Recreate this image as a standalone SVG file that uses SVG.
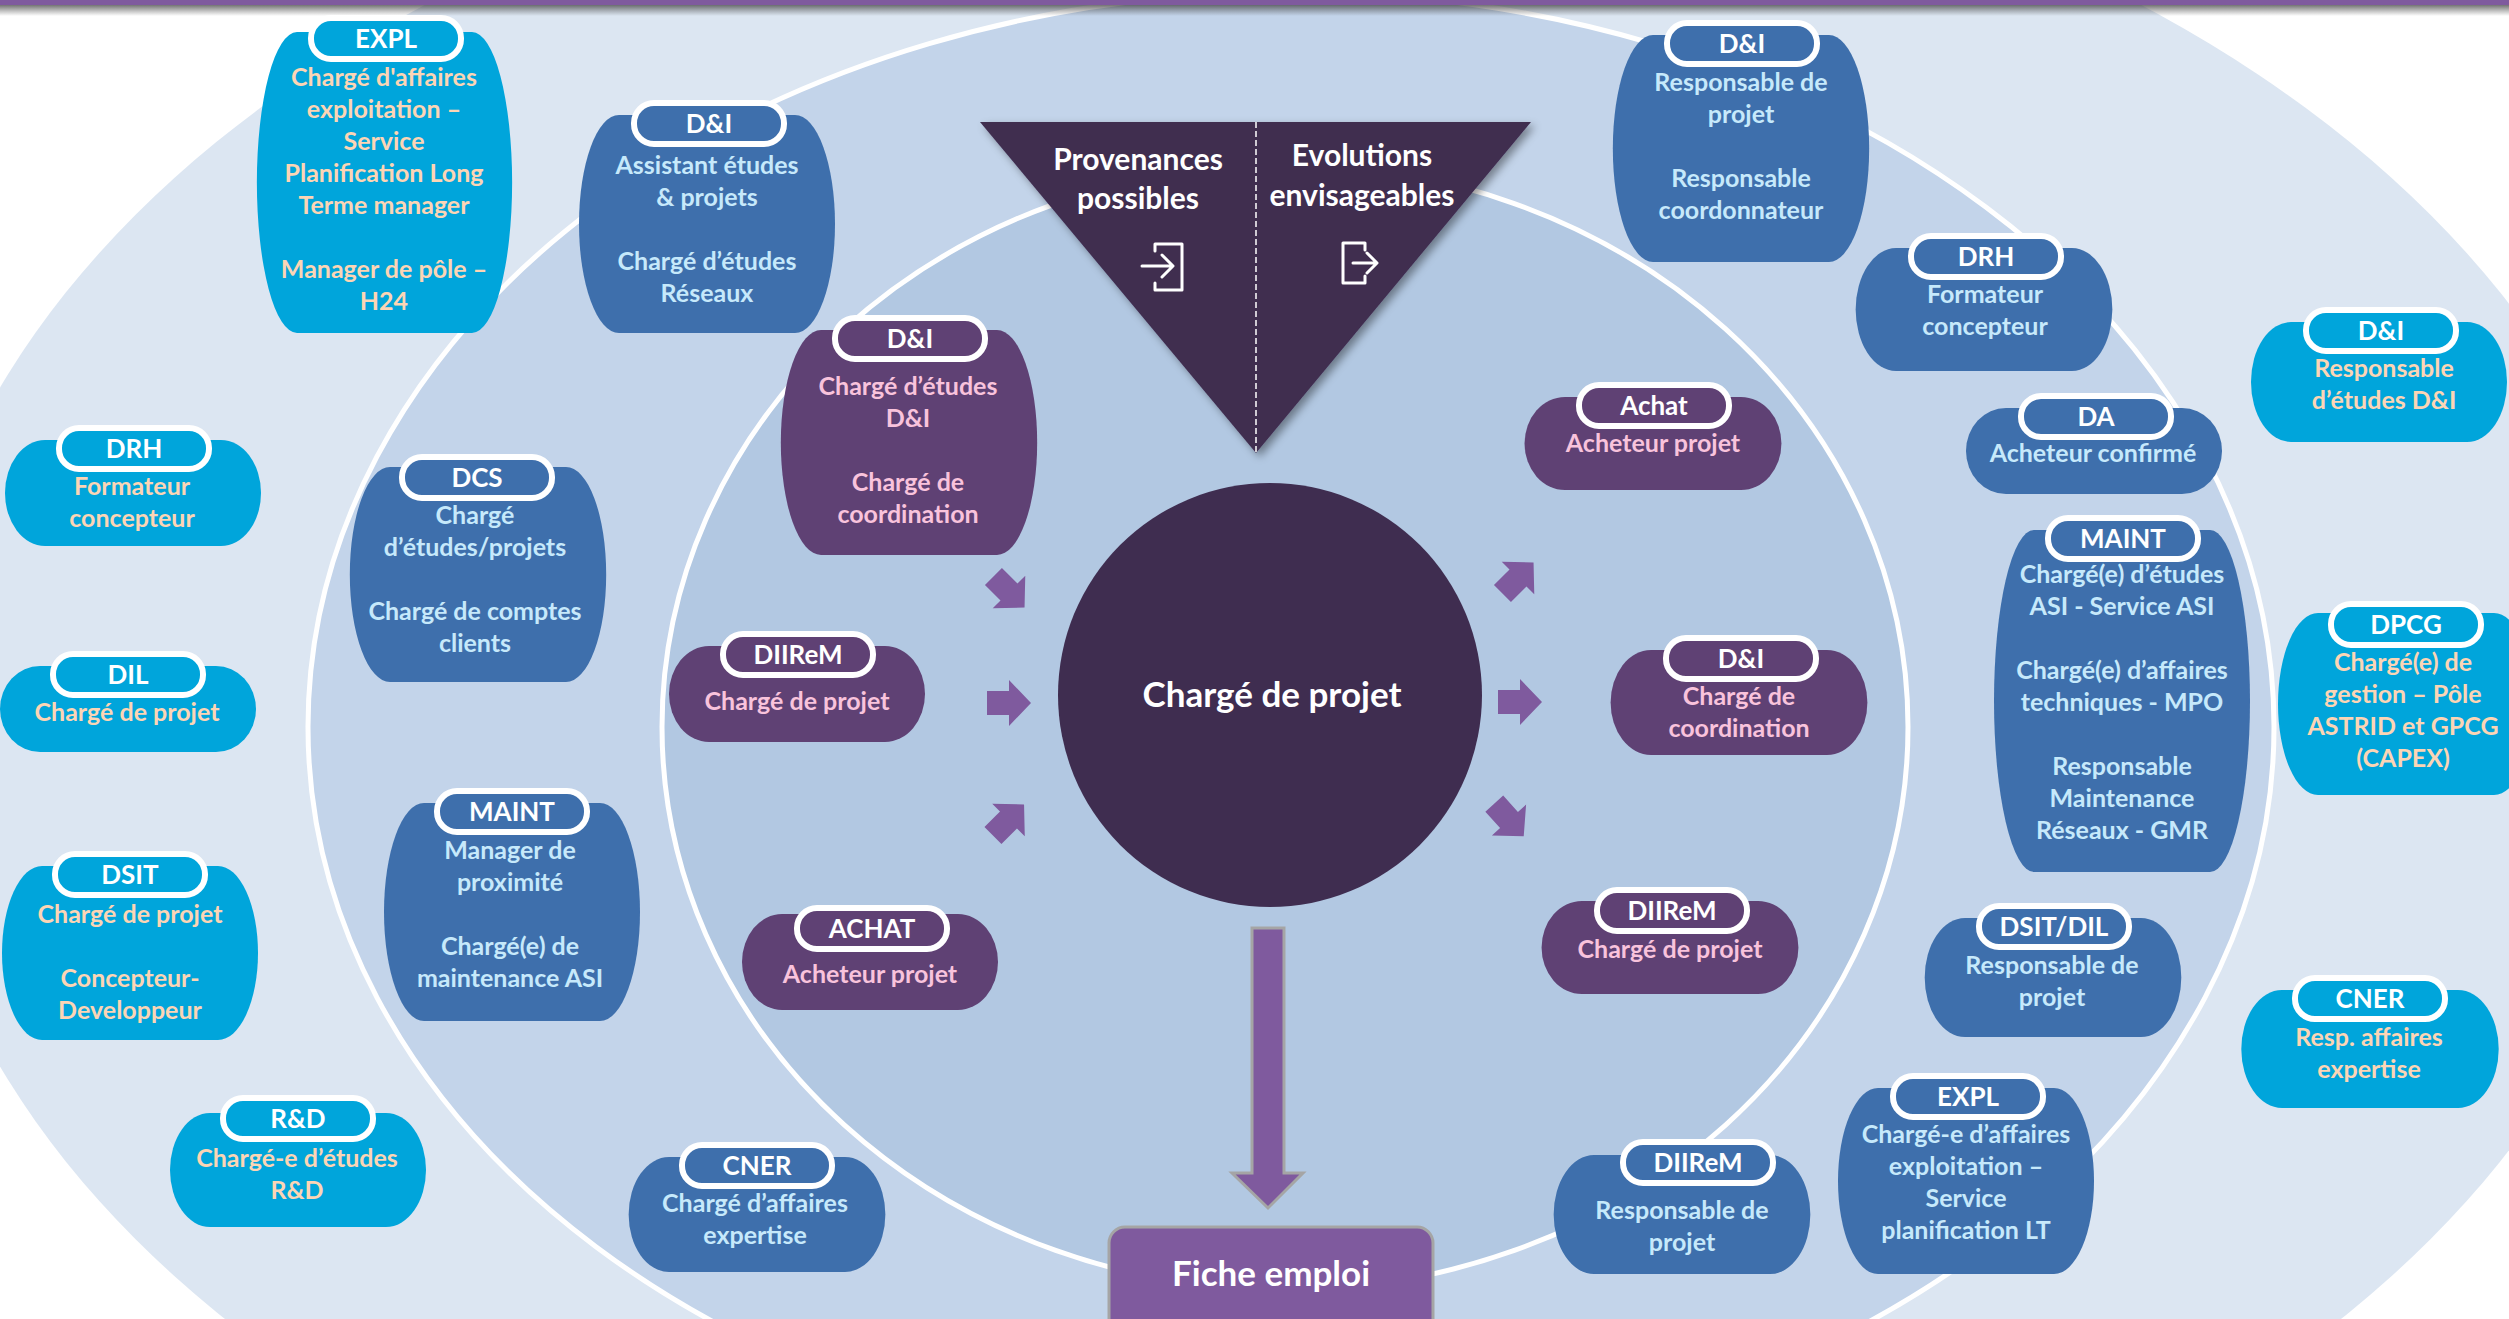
<svg xmlns="http://www.w3.org/2000/svg" xmlns:xlink="http://www.w3.org/1999/xlink" width="2509" height="1319" viewBox="0 0 2509 1319">
<style>
text{font-family:"Lato","Open Sans","Liberation Sans",sans-serif;font-weight:700;text-anchor:middle}
.l{font-size:25px;transform:translateY(1px)}
.p{font-size:26px;fill:#fff;transform:translateY(1px)}
.cy path,.cy .pill{fill:#00a5db}
.bl path,.bl .pill{fill:#3e6fac}
.pu path,.pu .pill{fill:#5f4174}
.pill{stroke:#fff;stroke-width:6;transform:translateX(-1px)}
.cy .l{fill:#fcd5b5}
.bl .l{fill:#c6e9fb}
.pu .l{fill:#f9c3dc}
.w{fill:#fff}
.dark{fill:#3f2d50}
.ic{fill:none;stroke:#fff;stroke-width:3;stroke-linejoin:round;stroke-linecap:round}
.arr{fill:#7f5a9e}
</style>
<defs>
<linearGradient id="topshade" x1="0" y1="0" x2="0" y2="1"><stop offset="0" stop-color="#444" stop-opacity=".75"/><stop offset="1" stop-color="#555" stop-opacity="0"/></linearGradient>
<filter id="sh" x="-10%" y="-10%" width="125%" height="125%"><feDropShadow dx="4" dy="4" stdDeviation="4" flood-color="#000" flood-opacity=".4"/></filter>
<polygon id="ar" points="-22,-12 0,-12 0,-23 22,0 0,23 0,12 -22,12"/>
</defs>
<rect width="2509" height="1319" fill="#fff"/>
<ellipse cx="1283" cy="727" rx="1380" ry="922" fill="#dce6f2"/>
<ellipse cx="1291" cy="727" rx="983" ry="735" fill="#c3d4ea" stroke="#fff" stroke-width="5"/>
<ellipse cx="1285" cy="727" rx="623" ry="563" fill="#b2c8e2" stroke="#fff" stroke-width="5"/>
<rect y="5" width="2509" height="11" fill="url(#topshade)"/>
<rect width="2509" height="5" fill="#7f5a9e"/>

<g id="triangle">
<polygon class="dark" points="980,122 1531,122 1256,453" filter="url(#sh)"/>
<line x1="1256" y1="122" x2="1256" y2="453" stroke="#fff" stroke-width="1.5" stroke-dasharray="6 3"/>
<text class="w" x="1138" y="170" font-size="30">Provenances</text>
<text class="w" x="1138" y="209" font-size="30">possibles</text>
<text class="w" x="1362" y="166" font-size="30">Evolutions</text>
<text class="w" x="1362" y="206" font-size="30">envisageables</text>
<path class="ic" d="M1155 244H1182V290H1155V283M1155 244V251M1142 266H1172M1162 255L1173 266L1162 277"/>
<path class="ic" d="M1365 250V243H1343V283H1365V276M1353 263H1376M1367 253L1377 263L1367 273"/>
</g>

<g id="center"><circle class="dark" cx="1270" cy="695" r="212"/><text class="w" x="1272" y="707" font-size="35">Chargé de projet</text></g>

<g id="fiche"><rect x="1109" y="1227" width="324" height="110" rx="16" fill="#7f5a9e" stroke="#a5a5a5" stroke-width="3"/><text class="w" x="1271" y="1286" font-size="35">Fiche emploi</text></g>

<g id="connectors">
<polygon points="1252,928 1284,928 1284,1173 1303,1173 1268,1208 1232,1173 1252,1173" fill="#7f5a9e" stroke="#a5a5a5" stroke-width="3"/>
<use class="arr" xlink:href="#ar" href="#ar" transform="translate(1009 592) rotate(45)"/>
<use class="arr" xlink:href="#ar" href="#ar" transform="translate(1009 703)"/>
<use class="arr" xlink:href="#ar" href="#ar" transform="translate(1008.5 820) rotate(-45)"/>
<use class="arr" xlink:href="#ar" href="#ar" transform="translate(1518 578) rotate(-45)"/>
<use class="arr" xlink:href="#ar" href="#ar" transform="translate(1520 702)"/>
<use class="arr" xlink:href="#ar" href="#ar" transform="translate(1509 820) rotate(48)"/>
</g>

<g id="n-expl-o" class="cy"><path d="M297 32H472A40 150 0 0 1 472 333H297A40 150 0 0 1 297 32Z"/><rect class="pill" x="312" y="18" width="150" height="41" rx="20"/><text class="p" x="386" y="47">EXPL</text>
<text class="l" x="384" y="85">Chargé d'affaires</text><text class="l" x="384" y="117">exploitation –</text><text class="l" x="384" y="149">Service</text><text class="l" x="384" y="181">Planification Long</text><text class="l" x="384" y="213">Terme manager</text><text class="l" x="384" y="277">Manager de pôle –</text><text class="l" x="384" y="309">H24</text></g>

<g id="n-drh-o" class="cy"><path d="M45 440H221A40 53 0 0 1 221 546H45A40 53 0 0 1 45 440Z"/><rect class="pill" x="60" y="428" width="150" height="41" rx="20"/><text class="p" x="134" y="457">DRH</text>
<text class="l" x="132" y="494">Formateur</text><text class="l" x="132" y="526">concepteur</text></g>

<g id="n-dil-o" class="cy"><path d="M40 666H216A40 43 0 0 1 216 752H40A40 43 0 0 1 40 666Z"/><rect class="pill" x="54" y="654" width="150" height="41" rx="20"/><text class="p" x="128" y="683">DIL</text>
<text class="l" x="127" y="720">Chargé de projet</text></g>

<g id="n-dsit-o" class="cy"><path d="M42 866H218A40 87 0 0 1 218 1040H42A40 87 0 0 1 42 866Z"/><rect class="pill" x="56" y="854" width="150" height="41" rx="20"/><text class="p" x="130" y="883">DSIT</text>
<text class="l" x="130" y="922">Chargé de projet</text><text class="l" x="130" y="986">Concepteur-</text><text class="l" x="130" y="1018">Developpeur</text></g>

<g id="n-rd-o" class="cy"><path d="M210 1113H386A40 57 0 0 1 386 1227H210A40 57 0 0 1 210 1113Z"/><rect class="pill" x="224" y="1098" width="150" height="41" rx="20"/><text class="p" x="298" y="1127">R&amp;D</text>
<text class="l" x="297" y="1166">Chargé-e d’études</text><text class="l" x="297" y="1198">R&amp;D</text></g>

<g id="n-di-o" class="cy"><path d="M2291 322H2467A40 60 0 0 1 2467 442H2291A40 60 0 0 1 2291 322Z"/><rect class="pill" x="2307" y="310" width="150" height="41" rx="20"/><text class="p" x="2381" y="339">D&amp;I</text>
<text class="l" x="2384" y="376">Responsable</text><text class="l" x="2384" y="408">d’études D&amp;I</text></g>

<g id="n-dpcg-o" class="cy"><path d="M2318 613H2494A40 91 0 0 1 2494 795H2318A40 91 0 0 1 2318 613Z"/><rect class="pill" x="2332" y="604" width="150" height="41" rx="20"/><text class="p" x="2406" y="633">DPCG</text>
<text class="l" x="2403" y="670">Chargé(e) de</text><text class="l" x="2403" y="702">gestion – Pôle</text><text class="l" x="2403" y="734">ASTRID et GPCG</text><text class="l" x="2403" y="766">(CAPEX)</text></g>

<g id="n-cner-o" class="cy"><path d="M2282 990H2458A40 58 0 0 1 2458 1108H2282A40 58 0 0 1 2282 990Z"/><rect class="pill" x="2296" y="978" width="150" height="41" rx="20"/><text class="p" x="2370" y="1007">CNER</text>
<text class="l" x="2369" y="1045">Resp. affaires</text><text class="l" x="2369" y="1077">expertise</text></g>

<g id="n-di-m1" class="bl"><path d="M619 115H795A40 109 0 0 1 795 333H619A40 109 0 0 1 619 115Z"/><rect class="pill" x="635" y="103" width="150" height="41" rx="20"/><text class="p" x="709" y="132">D&amp;I</text>
<text class="l" x="707" y="173">Assistant études</text><text class="l" x="707" y="205">&amp; projets</text><text class="l" x="707" y="269">Chargé d’études</text><text class="l" x="707" y="301">Réseaux</text></g>

<g id="n-dcs-m" class="bl"><path d="M390 467H566A40 107 0 0 1 566 682H390A40 107 0 0 1 390 467Z"/><rect class="pill" x="403" y="457" width="150" height="41" rx="20"/><text class="p" x="477" y="486">DCS</text>
<text class="l" x="475" y="523">Chargé</text><text class="l" x="475" y="555">d’études/projets</text><text class="l" x="475" y="619">Chargé de comptes</text><text class="l" x="475" y="651">clients</text></g>

<g id="n-maint-m1" class="bl"><path d="M424 803H600A40 109 0 0 1 600 1021H424A40 109 0 0 1 424 803Z"/><rect class="pill" x="438" y="791" width="150" height="41" rx="20"/><text class="p" x="512" y="820">MAINT</text>
<text class="l" x="510" y="858">Manager de</text><text class="l" x="510" y="890">proximité</text><text class="l" x="510" y="954">Chargé(e) de</text><text class="l" x="510" y="986">maintenance ASI</text></g>

<g id="n-cner-m" class="bl"><path d="M669 1157H845A40 57 0 0 1 845 1272H669A40 57 0 0 1 669 1157Z"/><rect class="pill" x="683" y="1145" width="150" height="41" rx="20"/><text class="p" x="757" y="1174">CNER</text>
<text class="l" x="755" y="1211">Chargé d’affaires</text><text class="l" x="755" y="1243">expertise</text></g>

<g id="n-di-m2" class="bl"><path d="M1653 35H1829A40 113 0 0 1 1829 262H1653A40 113 0 0 1 1653 35Z"/><rect class="pill" x="1668" y="23" width="150" height="41" rx="20"/><text class="p" x="1742" y="52">D&amp;I</text>
<text class="l" x="1741" y="90">Responsable de</text><text class="l" x="1741" y="122">projet</text><text class="l" x="1741" y="186">Responsable</text><text class="l" x="1741" y="218">coordonnateur</text></g>

<g id="n-drh-m" class="bl"><path d="M1896 248H2072A40 61 0 0 1 2072 371H1896A40 61 0 0 1 1896 248Z"/><rect class="pill" x="1912" y="236" width="150" height="41" rx="20"/><text class="p" x="1986" y="265">DRH</text>
<text class="l" x="1985" y="302">Formateur</text><text class="l" x="1985" y="334">concepteur</text></g>

<g id="n-da-m" class="bl"><path d="M2006 408H2182A40 43 0 0 1 2182 494H2006A40 43 0 0 1 2006 408Z"/><rect class="pill" x="2022" y="396" width="150" height="41" rx="20"/><text class="p" x="2096" y="425">DA</text>
<text class="l" x="2093" y="461">Acheteur confirmé</text></g>

<g id="n-maint-m2" class="bl"><path d="M2034 530H2210A40 171 0 0 1 2210 872H2034A40 171 0 0 1 2034 530Z"/><rect class="pill" x="2049" y="518" width="150" height="41" rx="20"/><text class="p" x="2123" y="547">MAINT</text>
<text class="l" x="2122" y="582">Chargé(e) d’études</text><text class="l" x="2122" y="614">ASI - Service ASI</text><text class="l" x="2122" y="678">Chargé(e) d’affaires</text><text class="l" x="2122" y="710">techniques - MPO</text><text class="l" x="2122" y="774">Responsable</text><text class="l" x="2122" y="806">Maintenance</text><text class="l" x="2122" y="838">Réseaux - GMR</text></g>

<g id="n-dsit-m" class="bl"><path d="M1965 918H2141A40 59 0 0 1 2141 1037H1965A40 59 0 0 1 1965 918Z"/><rect class="pill" x="1980" y="906" width="150" height="41" rx="20"/><text class="p" x="2054" y="935">DSIT/DIL</text>
<text class="l" x="2052" y="973">Responsable de</text><text class="l" x="2052" y="1005">projet</text></g>

<g id="n-expl-m" class="bl"><path d="M1878 1088H2054A40 93 0 0 1 2054 1274H1878A40 93 0 0 1 1878 1088Z"/><rect class="pill" x="1894" y="1076" width="150" height="41" rx="20"/><text class="p" x="1968" y="1105">EXPL</text>
<text class="l" x="1966" y="1142">Chargé-e d’affaires</text><text class="l" x="1966" y="1174">exploitation –</text><text class="l" x="1966" y="1206">Service</text><text class="l" x="1966" y="1238">planification LT</text></g>

<g id="n-diirem-m" class="bl"><path d="M1594 1155H1770A40 59 0 0 1 1770 1274H1594A40 59 0 0 1 1594 1155Z"/><rect class="pill" x="1624" y="1142" width="150" height="41" rx="20"/><text class="p" x="1698" y="1171">DIIReM</text>
<text class="l" x="1682" y="1218">Responsable de</text><text class="l" x="1682" y="1250">projet</text></g>

<g id="n-di-i1" class="pu"><path d="M821 330H997A40 112 0 0 1 997 555H821A40 112 0 0 1 821 330Z"/><rect class="pill" x="836" y="318" width="150" height="41" rx="20"/><text class="p" x="910" y="347">D&amp;I</text>
<text class="l" x="908" y="394">Chargé d’études</text><text class="l" x="908" y="426">D&amp;I</text><text class="l" x="908" y="490">Chargé de</text><text class="l" x="908" y="522">coordination</text></g>

<g id="n-diirem-i1" class="pu"><path d="M709 646H885A40 48 0 0 1 885 742H709A40 48 0 0 1 709 646Z"/><rect class="pill" x="724" y="634" width="150" height="41" rx="20"/><text class="p" x="798" y="663">DIIReM</text>
<text class="l" x="797" y="709">Chargé de projet</text></g>

<g id="n-achat-i1" class="pu"><path d="M782 914H958A40 48 0 0 1 958 1010H782A40 48 0 0 1 782 914Z"/><rect class="pill" x="798" y="908" width="150" height="41" rx="20"/><text class="p" x="872" y="937">ACHAT</text>
<text class="l" x="870" y="982">Acheteur projet</text></g>

<g id="n-achat-i2" class="pu"><path d="M1565 397H1741A40 46 0 0 1 1741 490H1565A40 46 0 0 1 1565 397Z"/><rect class="pill" x="1580" y="385" width="150" height="41" rx="20"/><text class="p" x="1654" y="414">Achat</text>
<text class="l" x="1653" y="451">Acheteur projet</text></g>

<g id="n-di-i2" class="pu"><path d="M1651 650H1827A40 52 0 0 1 1827 755H1651A40 52 0 0 1 1651 650Z"/><rect class="pill" x="1667" y="638" width="150" height="41" rx="20"/><text class="p" x="1741" y="667">D&amp;I</text>
<text class="l" x="1739" y="704">Chargé de</text><text class="l" x="1739" y="736">coordination</text></g>

<g id="n-diirem-i2" class="pu"><path d="M1582 901H1758A40 46 0 0 1 1758 994H1582A40 46 0 0 1 1582 901Z"/><rect class="pill" x="1598" y="890" width="150" height="41" rx="20"/><text class="p" x="1672" y="919">DIIReM</text>
<text class="l" x="1670" y="957">Chargé de projet</text></g>
</svg>
